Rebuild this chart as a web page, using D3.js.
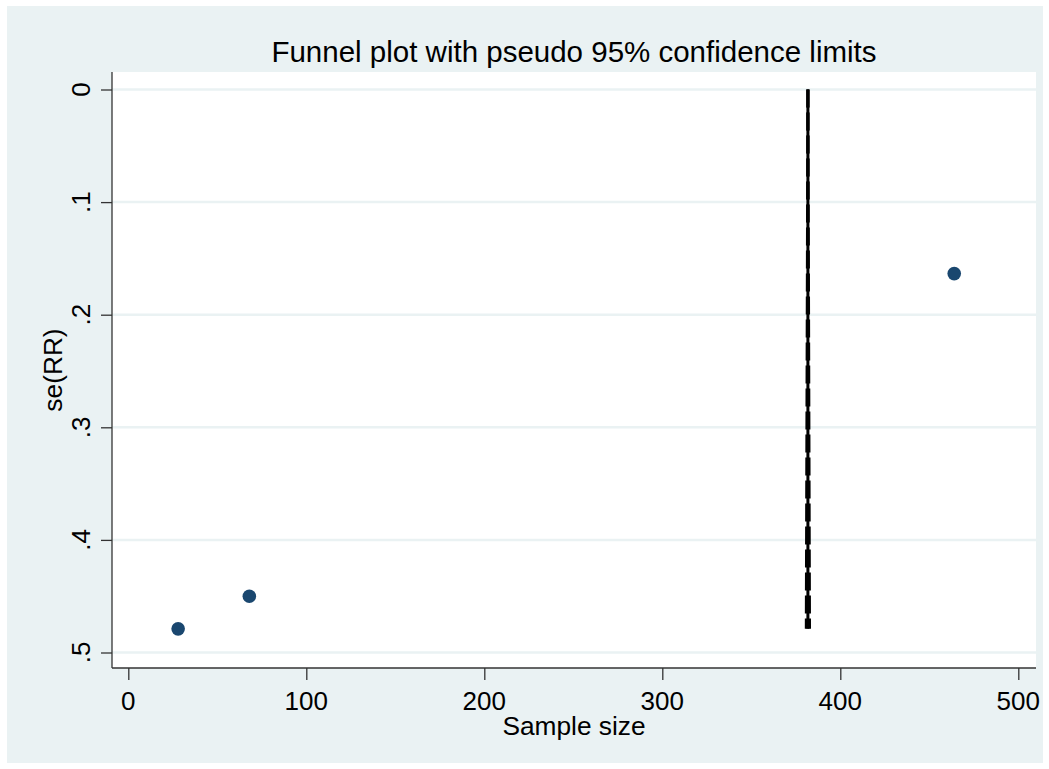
<!DOCTYPE html>
<html>
<head>
<meta charset="utf-8">
<script src="https://cdn.jsdelivr.net/npm/d3@7"></script>
<style>
  body { margin: 0; background: #ffffff; }
  text { font-family: "Liberation Sans", Arial, sans-serif; fill: #000; }
</style>
</head>
<body>
<div id="chart"></div>
<script>
// study points
const sampleSize = [28, 68, 464];
const seRR = [0.479, 0.450, 0.1635];

// pooled estimate line and pseudo 95% limits (endpoints)
const centerX = [381.8, 381.8];
const centerSe = [0, 0.479];
const lowerX = [381.8, 380.9];
const upperX = [381.8, 382.7];
const limitSe = [0, 0.479];

const xTicks = [0, 100, 200, 300, 400, 500];
const yTicks = [0, 0.1, 0.2, 0.3, 0.4, 0.5];
const yTickLabels = ["0", ".1", ".2", ".3", ".4", ".5"];

const titleText = "Funnel plot with pseudo 95% confidence limits";
const xTitle = "Sample size";
const yTitle = "se(RR)";

function drawFunnel(containerId) {
    const width = 1049;
    const height = 769;
    const plot = { left: 112, top: 72, right: 1036, bottom: 668 };

    const svg = d3.select(`#${containerId}`).append("svg")
        .attr("width", width)
        .attr("height", height);

    svg.append("rect")
        .attr("x", 7).attr("y", 6)
        .attr("width", 1036).attr("height", 757)
        .attr("fill", "#eaf2f3");

    svg.append("rect")
        .attr("x", plot.left).attr("y", plot.top)
        .attr("width", plot.right - plot.left)
        .attr("height", plot.bottom - plot.top)
        .attr("fill", "#ffffff");

    const x = d3.scaleLinear().domain([0, 500]).range([128.3, 1018.3]);
    const y = d3.scaleLinear().domain([0, 0.5]).range([89.5, 652.5]);

    // horizontal grid
    svg.selectAll(".grid")
        .data(yTicks)
        .enter().append("line")
        .attr("class", "grid")
        .attr("x1", plot.left).attr("x2", plot.right)
        .attr("y1", d => y(d)).attr("y2", d => y(d))
        .attr("stroke", "#eaf2f3")
        .attr("stroke-width", 2.5);

    // axes
    const yAxis = d3.axisLeft(y).tickValues(yTicks).tickSize(11).tickFormat("");
    svg.append("g")
        .attr("transform", `translate(${plot.left},0)`)
        .call(yAxis)
        .call(g => g.select(".domain").remove())
        .call(g => g.selectAll(".tick line").attr("stroke", "#333").attr("stroke-width", 1.3));

    const xAxis = d3.axisBottom(x).tickValues(xTicks).tickSize(12).tickFormat("");
    svg.append("g")
        .attr("transform", `translate(0,${plot.bottom})`)
        .call(xAxis)
        .call(g => g.select(".domain").remove())
        .call(g => g.selectAll(".tick line").attr("stroke", "#333").attr("stroke-width", 1.3));

    svg.append("line")
        .attr("x1", plot.left).attr("x2", plot.left)
        .attr("y1", plot.top).attr("y2", plot.bottom)
        .attr("stroke", "#333").attr("stroke-width", 1.3);
    svg.append("line")
        .attr("x1", plot.left).attr("x2", plot.right)
        .attr("y1", plot.bottom).attr("y2", plot.bottom)
        .attr("stroke", "#333").attr("stroke-width", 1.3);

    // tick labels
    svg.selectAll(".xLabel")
        .data(xTicks)
        .enter().append("text")
        .attr("class", "xLabel")
        .attr("x", d => x(d))
        .attr("y", 710)
        .attr("text-anchor", "middle")
        .attr("font-size", "26px")
        .text(d => d);

    svg.selectAll(".yLabel")
        .data(yTicks)
        .enter().append("text")
        .attr("class", "yLabel")
        .attr("transform", d => `translate(90,${y(d)}) rotate(-90)`)
        .attr("text-anchor", "middle")
        .attr("font-size", "26px")
        .text((d, i) => yTickLabels[i]);

    // titles
    svg.append("text")
        .attr("x", (plot.left + plot.right) / 2)
        .attr("y", 61.5)
        .attr("text-anchor", "middle")
        .attr("font-size", "29.5px")
        .text(titleText);

    svg.append("text")
        .attr("x", (plot.left + plot.right) / 2)
        .attr("y", 735)
        .attr("text-anchor", "middle")
        .attr("font-size", "26.3px")
        .text(xTitle);

    svg.append("text")
        .attr("transform", `translate(62,${(plot.top + plot.bottom) / 2}) rotate(-90)`)
        .attr("text-anchor", "middle")
        .attr("font-size", "26.3px")
        .text(yTitle);

    // funnel lines
    const line = d3.line().x(d => x(d[0])).y(d => y(d[1]));

    svg.append("path")
        .datum(d3.zip(centerX, centerSe))
        .attr("d", line)
        .attr("fill", "none")
        .attr("stroke", "#000")
        .attr("stroke-width", 3);

    [lowerX, upperX].forEach(xs => {
        svg.append("path")
            .datum(d3.zip(xs, limitSe))
            .attr("d", line)
            .attr("fill", "none")
            .attr("stroke", "#000")
            .attr("stroke-width", 3)
            .attr("stroke-dasharray", "18,5");
    });

    // study points
    svg.selectAll(".pt")
        .data(d3.zip(sampleSize, seRR))
        .enter().append("circle")
        .attr("class", "pt")
        .attr("cx", d => x(d[0]))
        .attr("cy", d => y(d[1]))
        .attr("r", 6.8)
        .attr("fill", "#1a476f");
}

drawFunnel("chart");
</script>
</body>
</html>
